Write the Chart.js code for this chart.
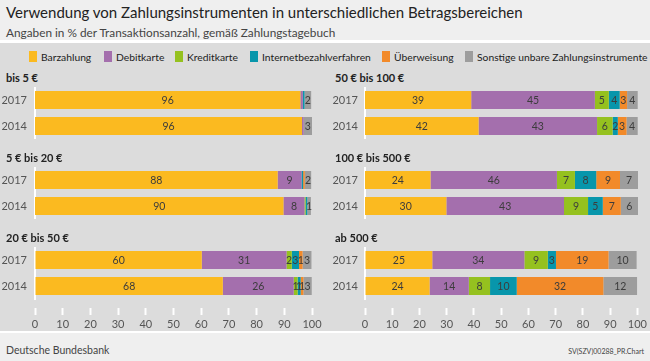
<!DOCTYPE html>
<html>
<head>
<meta charset="utf-8">
<script src="https://cdn.jsdelivr.net/npm/chart.js@4.4.1/dist/chart.umd.min.js"></script>
<style>
  body { margin: 0; width: 650px; height: 361px; overflow: hidden; background: #efefef; font-family: Lato, sans-serif; position: relative; }
  #title { position: absolute; left: 6px; top: 3px; font-size: 15px; color: #222; white-space: nowrap; }
  #sub { position: absolute; left: 6px; top: 25px; font-size: 11.8px; color: #444; white-space: nowrap; }
  #band { position: absolute; left: 0; top: 40px; width: 650px; height: 293px; box-sizing: border-box; background: #dcdcdc; border-top: 3px solid #fff; border-bottom: 2px solid #fff; }
  .item { position: absolute; top: 51px; height: 11px; display: flex; align-items: center; font-size: 10.3px; color: #222; white-space: nowrap; }
  .box { display: inline-block; width: 8px; height: 11px; margin-right: 4px; }
  .ptitle { position: absolute; font-size: 11px; font-weight: bold; color: #222; line-height: 14px; white-space: nowrap; }
  canvas { position: absolute; }
  #foot { position: absolute; left: 6px; top: 344px; font-size: 10.5px; color: #444; }
  #code { position: absolute; right: 6px; top: 347px; font-size: 7px; color: #444; }
</style>
</head>
<body>
<div id="title">Verwendung von Zahlungsinstrumenten in unterschiedlichen Betragsbereichen</div>
<div id="sub">Angaben in % der Transaktionsanzahl, gemäß Zahlungstagebuch</div>
<div id="band"></div>
<canvas id="p1" width="325" height="52" style="left:0;top:87px"></canvas>
<canvas id="p2" width="325" height="52" style="left:0;top:167px"></canvas>
<canvas id="p3" width="325" height="84" style="left:0;top:247px"></canvas>
<canvas id="p4" width="325" height="52" style="left:325px;top:87px"></canvas>
<canvas id="p5" width="325" height="52" style="left:325px;top:167px"></canvas>
<canvas id="p6" width="325" height="84" style="left:325px;top:247px"></canvas>
<div id="foot">Deutsche Bundesbank</div>
<div id="code">SV(SZV)00288_PR.Chart</div>
<script>
// instruments and colours
const categories = ["Barzahlung", "Debitkarte", "Kreditkarte", "Internetbezahlverfahren", "Überweisung", "Sonstige unbare Zahlungsinstrumente"];
const colors = ["#fbba20", "#a46fad", "#95c11f", "#0896ab", "#f28a2a", "#9d9d9d"];
const years = ["2017", "2014"];

// shares in % (order as in categories)
const bis5_2017 = [95.8, 0.9, 0, 0.6, 0, 2.4];
const bis5_2014 = [96.4, 0.6, 0, 0, 0, 3.0];
const bis20_2017 = [87.6, 8.6, 0, 0.6, 0.6, 2.3];
const bis20_2014 = [89.7, 7.6, 0.4, 0.6, 0, 1.3];
const bis50_2017 = [60.2, 30.6, 1.9, 2.6, 1.3, 3.2];
const bis50_2014 = [67.8, 25.6, 1.4, 1.1, 1.0, 3.0];
const bis100_2017 = [38.9, 45.3, 5.1, 4.0, 2.7, 3.9];
const bis100_2014 = [41.6, 43.4, 5.7, 1.9, 3.2, 4.1];
const bis500_2017 = [24.0, 46.3, 6.6, 7.8, 8.7, 6.6];
const bis500_2014 = [29.8, 43.1, 8.8, 5.4, 6.6, 6.3];
const ab500_2017 = [24.7, 33.8, 8.6, 3.0, 19.3, 10.3];
const ab500_2014 = [23.7, 14.4, 7.8, 9.8, 31.8, 12.4];

// legend (left edge of each entry)
const legendX = [29, 104, 175, 250, 382, 465];
categories.forEach((c, i) => {
  const item = document.createElement("div");
  item.className = "item";
  item.style.left = legendX[i] + "px";
  item.innerHTML = '<span class="box" style="background:' + colors[i] + '"></span>' + c;
  document.body.appendChild(item);
});

// value labels in the middle of each segment
const segmentLabels = {
  id: "segmentLabels",
  afterDatasetsDraw(chart) {
    const ctx = chart.ctx;
    ctx.save();
    ctx.font = "10.5px Lato";
    ctx.fillStyle = "#3c3c3c";
    ctx.textAlign = "center";
    ctx.textBaseline = "middle";
    chart.data.datasets.forEach((ds, i) => {
      chart.getDatasetMeta(i).data.forEach((bar, j) => {
        const v = ds.data[j];
        if (v < 1) return;
        const p = bar.getCenterPoint();
        ctx.fillText(Math.round(v), p.x, p.y + 0.5);
      });
    });
    ctx.restore();
  },
};

function makePanel(id, title, v2017, v2014, left, showAxis) {
  const canvas = document.getElementById(id);
  const t = document.createElement("div");
  t.className = "ptitle";
  t.textContent = title;
  t.style.left = (left ? 6 : 335) + "px";
  t.style.top = (parseInt(canvas.style.top) - 16) + "px";
  document.body.appendChild(t);

  new Chart(canvas, {
    type: "bar",
    data: {
      labels: years,
      datasets: categories.map((c, i) => ({
        label: c,
        data: [v2017[i], v2014[i]],
        backgroundColor: colors[i],
        borderWidth: 0,
        barPercentage: 18 / 26,
        categoryPercentage: 1,
      })),
    },
    options: {
      indexAxis: "y",
      responsive: false,
      animation: false,
      devicePixelRatio: 1,
      layout: { padding: { left: 0, right: left ? 13 : 12, top: 0, bottom: 0 } },
      plugins: {
        legend: { display: false },
        tooltip: { enabled: false },
      },
      scales: {
        x: {
          stacked: true,
          min: 0,
          max: 100,
          display: showAxis,
          ticks: { stepSize: 10, color: "#555", font: { size: 11, family: "Lato" }, padding: 3, maxRotation: 0 },
          grid: { drawOnChartArea: false, tickLength: 16, tickColor: "#fff", tickWidth: 2, tickBorderDash: [7, 100], tickBorderDashOffset: 98 },
          border: { display: false },
          afterFit: (s) => { if (showAxis) s.height = 32; },
        },
        y: {
          stacked: true,
          ticks: { color: "#555", font: { size: 11, family: "Lato" }, padding: left ? 8 : 7 },
          grid: { display: false, drawTicks: false },
          border: { color: "#fff", width: 2 },
          afterFit: (s) => {
            s.width = left ? 35 : 40;
            s.paddingTop = 0;
            s.paddingBottom = 0;
          },
        },
      },
    },
    plugins: [segmentLabels],
  });
}

makePanel("p1", "bis 5 €", bis5_2017, bis5_2014, true, false);
makePanel("p2", "5 € bis 20 €", bis20_2017, bis20_2014, true, false);
makePanel("p3", "20 € bis 50 €", bis50_2017, bis50_2014, true, true);
makePanel("p4", "50 € bis 100 €", bis100_2017, bis100_2014, false, false);
makePanel("p5", "100 € bis 500 €", bis500_2017, bis500_2014, false, false);
makePanel("p6", "ab 500 €", ab500_2017, ab500_2014, false, true);
</script>
</body>
</html>
